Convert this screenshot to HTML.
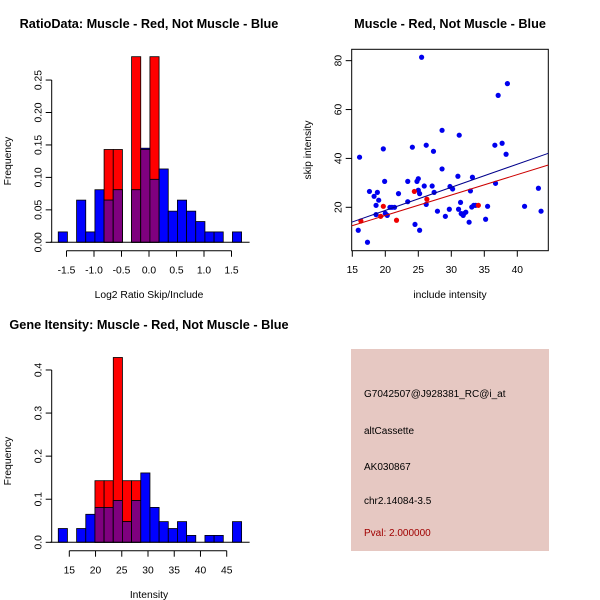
<!DOCTYPE html>
<html><head><meta charset="utf-8"><style>
body{margin:0;background:#fff}
svg{display:block;font-family:"Liberation Sans",sans-serif}
</style></head><body>
<svg id="s" width="600" height="600" viewBox="0 0 600 600">
<rect width="600" height="600" fill="#fff"/>
<text x="149" y="28" font-size="12.7" font-weight="bold" text-anchor="middle">RatioData: Muscle - Red, Not Muscle - Blue</text>
<text x="149" y="298" font-size="10.3" text-anchor="middle">Log2 Ratio Skip/Include</text>
<text transform="translate(11,161) rotate(-90)" font-size="10.3" text-anchor="middle">Frequency</text>
<text x="450" y="28" font-size="12.7" font-weight="bold" text-anchor="middle">Muscle - Red, Not Muscle - Blue</text>
<text x="450" y="298" font-size="10.3" text-anchor="middle">include intensity</text>
<text transform="translate(311,150) rotate(-90)" font-size="10.3" text-anchor="middle">skip intensity</text>
<text x="149" y="329" font-size="12.7" font-weight="bold" text-anchor="middle">Gene Itensity: Muscle - Red, Not Muscle - Blue</text>
<text x="149" y="598" font-size="10.3" text-anchor="middle">Intensity</text>
<text transform="translate(11,461) rotate(-90)" font-size="10.3" text-anchor="middle">Frequency</text>
<g>
<rect x="351" y="349" width="198" height="202" fill="#e6c8c2"/>
<text x="364" y="397" font-size="10">G7042507@J928381_RC@i_at</text>
<text x="364" y="434" font-size="10">altCassette</text>
<text x="364" y="470" font-size="10">AK030867</text>
<text x="364" y="504" font-size="10">chr2.14084-3.5</text>
<text x="364" y="536" font-size="10" fill="#a00000">Pval: 2.000000</text>
</g>
</svg>
<script>
// Ratio histogram data
const ratioStart = -1.65, ratioBinW = 1/6;
const ratioBlue = [0.016,0,0.065,0.016,0.081,0.065,0.081,0,0.081,0.145,0.097,0.113,0.048,0.065,0.048,0.032,0.016,0.016,0,0.016];
const ratioRed  = [0,0,0,0,0,0.143,0.143,0,0.286,0.143,0.286,0,0,0,0,0,0,0,0,0];
const ratioXTicks = [-1.5,-1.0,-0.5,0.0,0.5,1.0,1.5];
const ratioXLabels = ["-1.5","-1.0","-0.5","0.0","0.5","1.0","1.5"];
const ratioYTicks = [0,0.05,0.10,0.15,0.20,0.25];
const ratioYLabels = ["0.00","0.05","0.10","0.15","0.20","0.25"];
// Intensity histogram data
const intStart = 12.9, intBinW = 1.747;
const intBlue = [0.032,0,0.032,0.065,0.081,0.081,0.097,0.048,0.097,0.161,0.081,0.048,0.032,0.048,0.016,0,0.016,0.016,0,0.048];
const intRed  = [0,0,0,0,0.143,0.143,0.429,0.143,0.143,0,0,0,0,0,0,0,0,0,0,0];
const intXTicks = [15,20,25,30,35,40,45];
const intYTicks = [0,0.1,0.2,0.3,0.4];
const intYLabels = ["0.0","0.1","0.2","0.3","0.4"];
// Scatter data
const blueX = [15.9,16.1,17.3,17.6,18.3,18.6,18.6,18.8,19,19.7,19.9,20,20.3,20.7,21,21.4,22,23.4,23.4,24.1,24.5,24.8,25,25,25.2,25.2,25.5,25.9,26.2,26.2,27.1,27.3,27.4,27.9,28.6,28.6,29.1,29.7,29.8,30.2,31,31.1,31.2,31.4,31.5,31.8,31.9,32.2,32.7,32.9,33.1,33.2,33.4,33.7,35.2,35.5,36.6,36.7,37.1,37.7,38.3,38.5,41.1,43.2,43.6];
const blueY = [10.6,40.5,5.7,26.5,24.5,20.8,17,26.1,22.9,43.9,30.6,17.5,16.7,20,20,20,25.6,22.3,30.6,44.6,13,30.6,31.7,27,25.6,10.6,81.4,28.7,21.2,45.4,28.7,42.9,26.1,18.4,35.7,51.5,16.3,19.2,28.5,27.5,32.7,19.2,49.5,22,17.4,16.7,17.4,18,13.9,26.7,20.1,32.3,20.8,20.8,15.1,20.4,45.4,29.8,65.8,46.2,41.7,70.6,20.4,27.8,18.4];
const redX = [16.3,19.3,19.7,21.7,24.4,26.3,34.1];
const redY = [14.4,16.3,20.4,14.7,26.5,23.3,20.8];
const blueFit = [-0.19,0.946]; // intercept, slope
const redFit = [-0.06,0.836];
const scXTicks = [15,20,25,30,35,40];
const scYTicks = [20,40,60,80];

const svg = document.getElementById('s');
const NS = 'http://www.w3.org/2000/svg';
function mk(tag, attrs, parent){const e=document.createElementNS(NS,tag);for(const k in attrs)e.setAttribute(k,attrs[k]);(parent||svg).appendChild(e);return e;}

function hist(prefix, start, w, blue, red, sx, sy, xt, xl, yt, yl, yAxisX, xAxisY){
  const g = mk('g',{});
  
  
  for(let i=0;i<blue.length;i++){
    const a=start+i*w, b=a+w;
    const xa=sx(a), xb=sx(b);
    if(red[i]>0){
      const r=mk('rect',{x:xa,y:sy(red[i]),width:xb-xa,height:sy(0)-sy(red[i]),fill:'#ff0000',stroke:'#000','stroke-width':0.8},g);
      
      
    }
    if(blue[i]>0){
      const bl=mk('rect',{x:xa,y:sy(blue[i]),width:xb-xa,height:sy(0)-sy(blue[i]),fill:'#0000ff',stroke:'#000','stroke-width':0.8},g);
      
      
    }
    const m=Math.min(red[i],blue[i]);
    if(m>0){
      const p=mk('rect',{x:xa,y:sy(m),width:xb-xa,height:sy(0)-sy(m),fill:'#7f007f',stroke:'#000','stroke-width':0.8},g);
      
      
    }
  }
  mk('line',{x1:sx(start)-8,x2:sx(start+w*blue.length)+8,y1:sy(0),y2:sy(0),stroke:'#000'},g);
  const xa=mk('g',{},g);
  
  
  mk('line',{x1:sx(xt[0]),x2:sx(xt[xt.length-1]),y1:xAxisY,y2:xAxisY,stroke:'#000'},xa);
  xt.forEach((t,i)=>{
    mk('line',{x1:sx(t),x2:sx(t),y1:xAxisY,y2:xAxisY+6,stroke:'#000'},xa);
    const tx=mk('text',{x:sx(t),y:xAxisY+23,'font-size':10.3,'text-anchor':'middle'},xa);
    tx.textContent=xl[i];
  });
  const ya=mk('g',{},g);
  
  
  mk('line',{x1:yAxisX,x2:yAxisX,y1:sy(yt[0]),y2:sy(yt[yt.length-1]),stroke:'#000'},ya);
  yt.forEach((t,i)=>{
    mk('line',{x1:yAxisX-6,x2:yAxisX,y1:sy(t),y2:sy(t),stroke:'#000'},ya);
    const tx=mk('text',{transform:`translate(${yAxisX-10},${sy(t)}) rotate(-90)`,'font-size':10.3,'text-anchor':'middle'},ya);
    tx.textContent=yl[i];
  });
}
hist('ratio', ratioStart, ratioBinW, ratioBlue, ratioRed,
  v=>149+v*55, v=>242.3-v*649, ratioXTicks, ratioXLabels, ratioYTicks, ratioYLabels, 51.7, 250.7);
hist('intensity', intStart, intBinW, intBlue, intRed,
  v=>69.3+(v-15)*5.247, v=>542.3-v*430.8, intXTicks, intXTicks.map(String), intYTicks, intYLabels, 51.7, 550.7);

const sx=v=>352.3+(v-15)*6.6, sy=v=>207.3-(v-20)*2.444;
const sg=mk('g',{});


mk('defs',{},sg).innerHTML='<clipPath id="cp"><rect x="351.7" y="49.3" width="196.6" height="201.4"/></clipPath>';
const pb=mk('rect',{x:351.7,y:49.3,width:196.6,height:201.4,fill:'none',stroke:'#000'},sg);


blueX.forEach((x,i)=>{
  const c=mk('circle',{cx:sx(x),cy:sy(blueY[i]),r:2.6,fill:'#0000ee'},sg);
  
  
});
redX.forEach((x,i)=>{
  const c=mk('circle',{cx:sx(x),cy:sy(redY[i]),r:2.6,fill:'#ee0000'},sg);
  
  
});
[[blueFit,'#00008b','blue-fit-line'],[redFit,'#cc0000','red-fit-line']].forEach(([f,c,n])=>{
  const xa=14.9,xb=44.7;
  const l=mk('line',{x1:sx(xa),y1:sy(f[0]+f[1]*xa),x2:sx(xb),y2:sy(f[0]+f[1]*xb),stroke:c,'clip-path':'url(#cp)'},sg);
  
  
});
const sxa=mk('g',{},sg);


scXTicks.forEach(t=>{
  mk('line',{x1:sx(t),x2:sx(t),y1:250.7,y2:256.7,stroke:'#000'},sxa);
  const tx=mk('text',{x:sx(t),y:273,'font-size':10.3,'text-anchor':'middle'},sxa);
  tx.textContent=t;
});
const sya=mk('g',{},sg);


scYTicks.forEach(t=>{
  mk('line',{x1:345.7,x2:351.7,y1:sy(t),y2:sy(t),stroke:'#000'},sya);
  const tx=mk('text',{transform:`translate(341.7,${sy(t)}) rotate(-90)`,'font-size':10.3,'text-anchor':'middle'},sya);
  tx.textContent=t;
});
</script>
</body></html>
